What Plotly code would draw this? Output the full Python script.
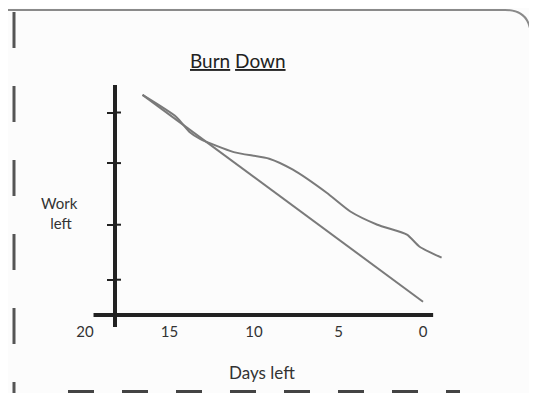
import plotly.graph_objects as go

# Dados do gráfico
dias_ideal = [16.6, 0.0]
trabalho_ideal = [100, 6]

dias_real = [16.6, 14.6, 13.8, 13.2, 11.2, 9.1, 7.7, 5.7, 4.3, 2.7, 0.95, 0.2, -1.1]
trabalho_real = [100, 90, 83, 80, 74, 71, 66, 55.5, 47, 41, 36.5, 31, 26]

x_ticks = [20, 15, 10, 5, 0]
x_tick_labels = ["20", "15", "10", "5", "0"]
y_ticks = [92, 69, 41, 16]

FONTE = "Lato, DejaVu Sans, sans-serif"
COR_LINHA = "#7a7a7a"
COR_EIXO = "#222222"

# A página tem 8px de margem no body, então o gráfico é 8px menor
OFF = 8
W, H = 537 - OFF, 393 - OFF
# Área do gráfico (coordenadas da imagem de referência: x 80..447, y 85..327)
L, T = 80 - OFF, 85 - OFF
R, B = W - (447 - OFF), H - (327 - OFF)
PW, PH = W - L - R, H - T - B


def px(x):
    # pixel da referência -> fração do papel
    return (x - OFF - L) / PW


def py(y):
    return (H - B - (y - OFF)) / PH


fig = go.Figure()

# Linha ideal
fig.add_trace(go.Scatter(
    x=dias_ideal, y=trabalho_ideal, mode="lines",
    line=dict(color=COR_LINHA, width=2), hoverinfo="skip", showlegend=False,
))

# Linha real
fig.add_trace(go.Scatter(
    x=dias_real, y=trabalho_real, mode="lines",
    line=dict(color=COR_LINHA, width=2, shape="spline", smoothing=0.6),
    hoverinfo="skip", showlegend=False,
))

fig.update_layout(
    width=W, height=H,
    margin=dict(l=L, r=R, t=T, b=B),
    paper_bgcolor="#fcfcfc",
    plot_bgcolor="#fcfcfc",
    showlegend=False,
    xaxis=dict(
        range=[20.3, -1.42],
        anchor="free", position=py(321),
        tickvals=x_ticks, ticktext=x_tick_labels,
        tickfont=dict(family=FONTE, size=15, color="#333"),
        showgrid=False, zeroline=False, showline=False, ticks="",
    ),
    yaxis=dict(
        range=[-5.5, 104.5],
        anchor="free", position=px(115),
        showline=True, linewidth=4, linecolor=COR_EIXO,
        zeroline=False,
        tickvals=y_ticks, ticks="outside", ticklen=6, tickwidth=2, tickcolor=COR_EIXO,
        showticklabels=False, showgrid=False,
    ),
)

# Linha do eixo x (de 19.5 dias até um pouco depois do zero)
fig.add_shape(
    type="line", xref="x", yref="y", x0=19.5, x1=-0.6, y0=0, y1=0,
    line=dict(color=COR_EIXO, width=4),
)

# Marcas do eixo y cruzando a linha (lado direito)
for v in y_ticks:
    fig.add_shape(
        type="line", xref="paper", yref="y", x0=px(115), x1=px(121), y0=v, y1=v,
        line=dict(color=COR_EIXO, width=2),
    )

# Textos
fig.add_annotation(
    x=px(238), y=py(60), xref="paper", yref="paper", showarrow=False,
    xanchor="center", yanchor="middle",
    text="<u>Burn</u> <u>Down</u>", font=dict(family=FONTE, size=19, color="#222"),
)
fig.add_annotation(
    x=px(59), y=py(213), xref="paper", yref="paper", showarrow=False,
    xanchor="center", yanchor="middle",
    text="Work<br> left", font=dict(family=FONTE, size=15, color="#333"),
)
fig.add_annotation(
    x=px(262), y=py(372), xref="paper", yref="paper", showarrow=False,
    xanchor="center", yanchor="middle",
    text="Days left", font=dict(family=FONTE, size=17, color="#333"),
)

# Moldura da página (decoração)
fig.add_shape(
    type="path", xref="paper", yref="paper",
    path=(f"M {px(0)},{py(10)} L {px(505)},{py(10)} "
          f"Q {px(531)},{py(10)} {px(531)},{py(38)} L {px(531)},{py(395)}"),
    line=dict(color="#8a8a8a", width=2),
)
fig.add_shape(
    type="line", xref="paper", yref="paper",
    x0=px(533), x1=px(533), y0=py(42), y1=py(395),
    line=dict(color="#555", width=4),
)
fig.add_shape(
    type="line", xref="paper", yref="paper",
    x0=px(14), x1=px(14), y0=py(12), y1=py(395),
    line=dict(color="#555", width=3, dash="36px,38px"),
)
fig.add_shape(
    type="line", xref="paper", yref="paper",
    x0=px(68), x1=px(460), y0=py(392), y1=py(392),
    line=dict(color="#444", width=4, dash="26px,28px"),
)

fig.write_html("out.html")
